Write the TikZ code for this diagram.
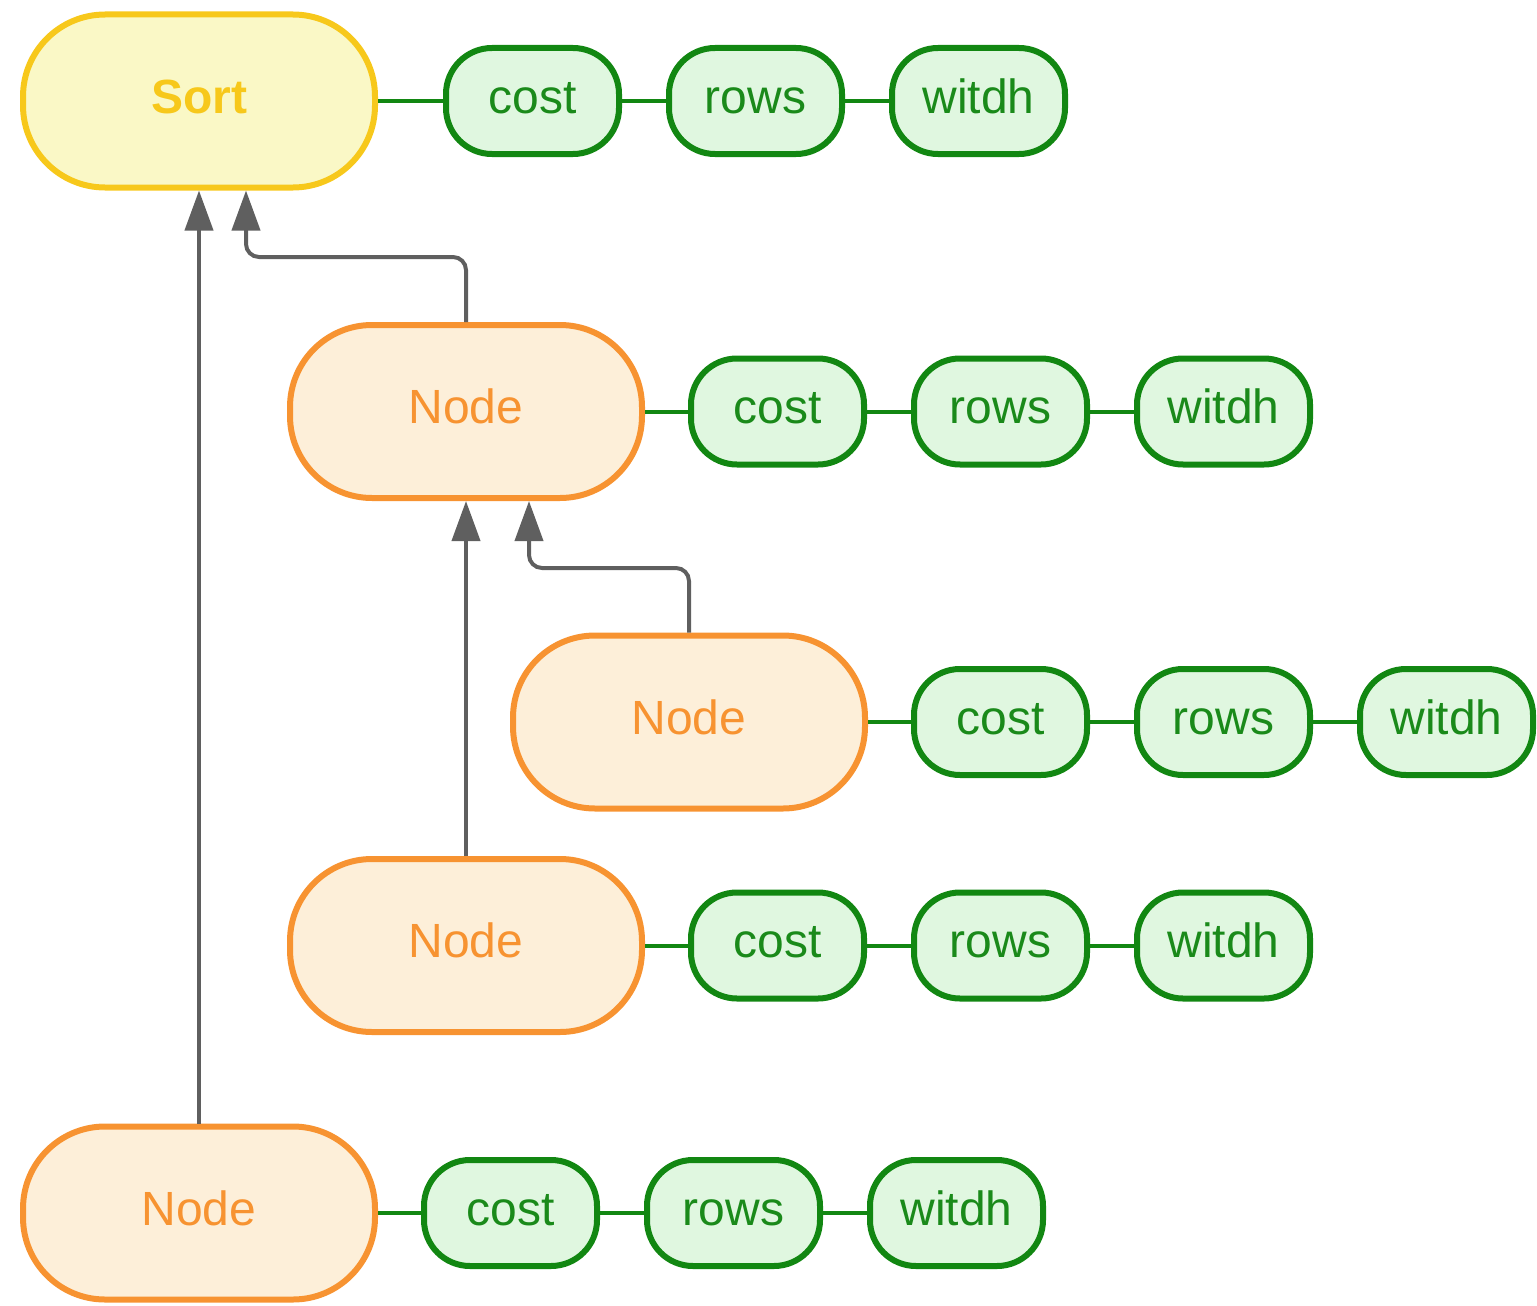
\documentclass[tikz,border=0pt]{standalone}
\usepackage{fontspec}
\setmainfont{Liberation Sans}
\usetikzlibrary{arrows.meta,calc}

\definecolor{sortline}{HTML}{F7C81B}
\definecolor{sortfill}{HTML}{FAF8C6}
\definecolor{nodeline}{HTML}{F79331}
\definecolor{nodefill}{HTML}{FDEFD9}
\definecolor{attrline}{HTML}{128712}
\definecolor{attrfill}{HTML}{E0F7E0}
\definecolor{attrtext}{HTML}{1A8A1A}
\definecolor{flow}{HTML}{5F5F5F}

\tikzset{
  big/.style={rectangle, rounded corners=82pt, minimum width=352pt, minimum height=173pt,
    line width=6pt, inner sep=0pt, text height=24pt, text depth=0pt,
    font=\fontsize{48}{56}\selectfont},
  sortbox/.style={big, draw=sortline, fill=sortfill, text=sortline,
    font=\fontsize{48}{56}\selectfont\bfseries},
  planbox/.style={big, draw=nodeline, fill=nodefill, text=nodeline},
  attr/.style={rectangle, rounded corners=46pt, minimum width=173pt, minimum height=106pt,
    line width=6pt, inner sep=0pt, draw=attrline, fill=attrfill, text=attrtext,
    text height=24pt, text depth=0pt, font=\fontsize{48}{56}\selectfont},
  link/.style={draw=attrline, line width=4pt},
  arr/.style={draw=flow, line width=4pt, rounded corners=13pt,
    -{Triangle[length=40pt,width=28pt]}}
}

\begin{document}
\begin{tikzpicture}[x=1pt,y=-1pt]
\useasboundingbox (0,0) rectangle (1537,1306);

% plan nodes
\node[sortbox] (sort) at (199,101) {Sort};
\node[planbox] (n1) at (466,411.5) {Node};
\node[planbox] (n2) at (689,722) {Node};
\node[planbox] (n3) at (466,945.5) {Node};
\node[planbox] (n4) at (199,1213) {Node};

% attribute chains
\foreach \p/\x/\y in {sort/532.5/101, n1/777.5/411.5, n2/1000.5/722, n3/777.5/945.5, n4/510.5/1213}{
  \node[attr] (\p c) at (\x,\y) {cost};
  \node[attr] (\p r) at (\x+223,\y) {rows};
  \node[attr] (\p w) at (\x+446,\y) {witdh};
  \draw[link] (\p) -- (\p c);
  \draw[link] (\p c) -- (\p r);
  \draw[link] (\p r) -- (\p w);
}

% flow arrows
\coordinate (sortin) at ($(sort.south)+(47,0)$);
\coordinate (n1in) at ($(n1.south)+(63,0)$);
\draw[arr] (n4.north) -- (sort.south);
\draw[arr] (n1.north) -- ($(n1.north |- 0,257)$) -- ($(sortin |- 0,257)$) -- (sortin);
\draw[arr] (n3.north) -- (n1.south);
\draw[arr] (n2.north) -- ($(n2.north |- 0,568)$) -- ($(n1in |- 0,568)$) -- (n1in);
\end{tikzpicture}
\end{document}
